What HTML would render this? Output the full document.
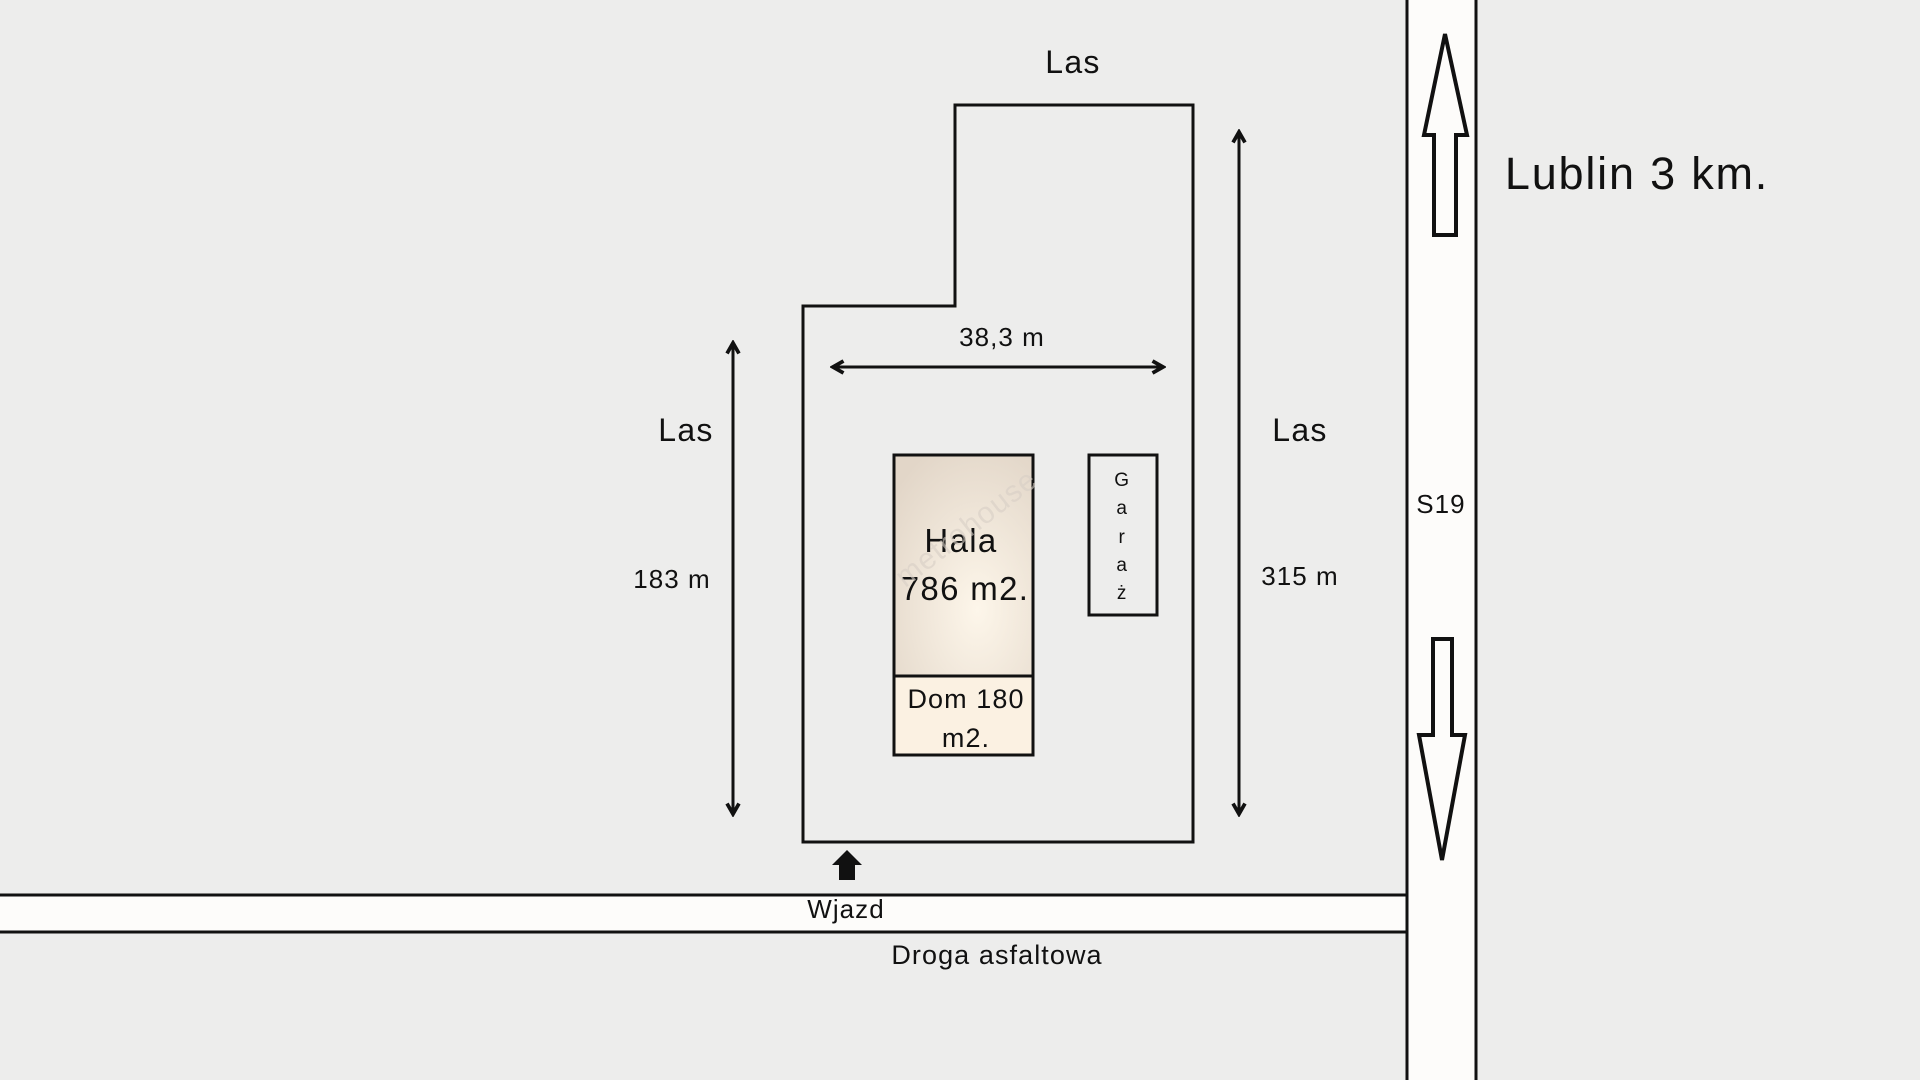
<!DOCTYPE html>
<html><head><meta charset="utf-8"><style>
html,body{margin:0;padding:0;background:#ededec;}
svg{display:block}
text{font-family:"Liberation Sans","DejaVu Sans",sans-serif;fill:#111;text-anchor:middle;letter-spacing:0.04em}
</style></head><body>
<svg width="1920" height="1080" viewBox="0 0 1920 1080">
<defs>
<radialGradient id="g" cx="0.6" cy="0.7" r="0.8">
<stop offset="0" stop-color="#fdf6ea"/><stop offset="1" stop-color="#e2d6c8"/>
</radialGradient>
<marker id="ah" viewBox="0 0 10 10" refX="8" refY="5" markerWidth="5" markerHeight="5" orient="auto-start-reverse">
<path d="M1 1 L8 5 L1 9" fill="none" stroke="#111" stroke-width="2.5"/>
</marker>
</defs>
<rect width="1920" height="1080" fill="#ededec"/>
<rect x="-5" y="895" width="1412" height="37" fill="#fdfcfa" stroke="#111" stroke-width="3"/>
<rect x="1407" y="-5" width="69" height="1090" fill="#fdfcfa" stroke="#111" stroke-width="3"/>
<polygon points="955,105 1193,105 1193,842 803,842 803,306 955,306" fill="none" stroke="#111" stroke-width="3"/>
<rect x="894" y="455" width="139" height="221" fill="url(#g)" stroke="#111" stroke-width="3"/>
<rect x="894" y="676" width="139" height="79" fill="#fbf1e2" stroke="#111" stroke-width="3"/>
<rect x="1089" y="455" width="68" height="160" fill="none" stroke="#111" stroke-width="3"/>
<line x1="833" y1="367" x2="1163" y2="367" stroke="#111" stroke-width="3" marker-start="url(#ah)" marker-end="url(#ah)"/>
<line x1="733" y1="343" x2="733" y2="814" stroke="#111" stroke-width="3" marker-start="url(#ah)" marker-end="url(#ah)"/>
<line x1="1239" y1="132" x2="1239" y2="814" stroke="#111" stroke-width="3" marker-start="url(#ah)" marker-end="url(#ah)"/>
<polygon points="1445,34 1467,135 1456,135 1456,235 1434,235 1434,135 1424,135" fill="#fdfcfa" stroke="#111" stroke-width="4"/>
<polygon points="1433,639 1452,639 1452,735 1465,735 1442,860 1419,735 1433,735" fill="#fdfcfa" stroke="#111" stroke-width="4"/>
<polygon points="847,850 862,865 855,865 855,880 839,880 839,865 832,865" fill="#111"/>
<text x="1073" y="73" font-size="32">Las</text>
<text x="686" y="441" font-size="32">Las</text>
<text x="1300" y="441" font-size="32">Las</text>
<text x="1002" y="346" font-size="26">38,3 m</text>
<text x="672" y="588" font-size="26">183 m</text>
<text x="1300" y="585" font-size="26">315 m</text>
<text x="961" y="552" font-size="33">Hala</text>
<text x="965" y="600" font-size="33">786 m2.</text>
<text x="966" y="708" font-size="27">Dom 180</text>
<text x="966" y="747" font-size="27">m2.</text>
<g font-size="19">
<text x="1122" y="486">G</text><text x="1122" y="514">a</text><text x="1122" y="543">r</text><text x="1122" y="571">a</text><text x="1122" y="599">ż</text>
</g>
<text x="1441" y="513" font-size="26">S19</text>
<text x="1637" y="189" font-size="45">Lublin 3 km.</text>
<text x="846" y="918" font-size="26">Wjazd</text>
<text x="997" y="964" font-size="27">Droga asfaltowa</text>
<text x="960" y="540" font-size="30" style="fill:#d8cfc6;opacity:.6" transform="rotate(-38 960 520)">metrohouse</text>
</svg>
</body></html>
